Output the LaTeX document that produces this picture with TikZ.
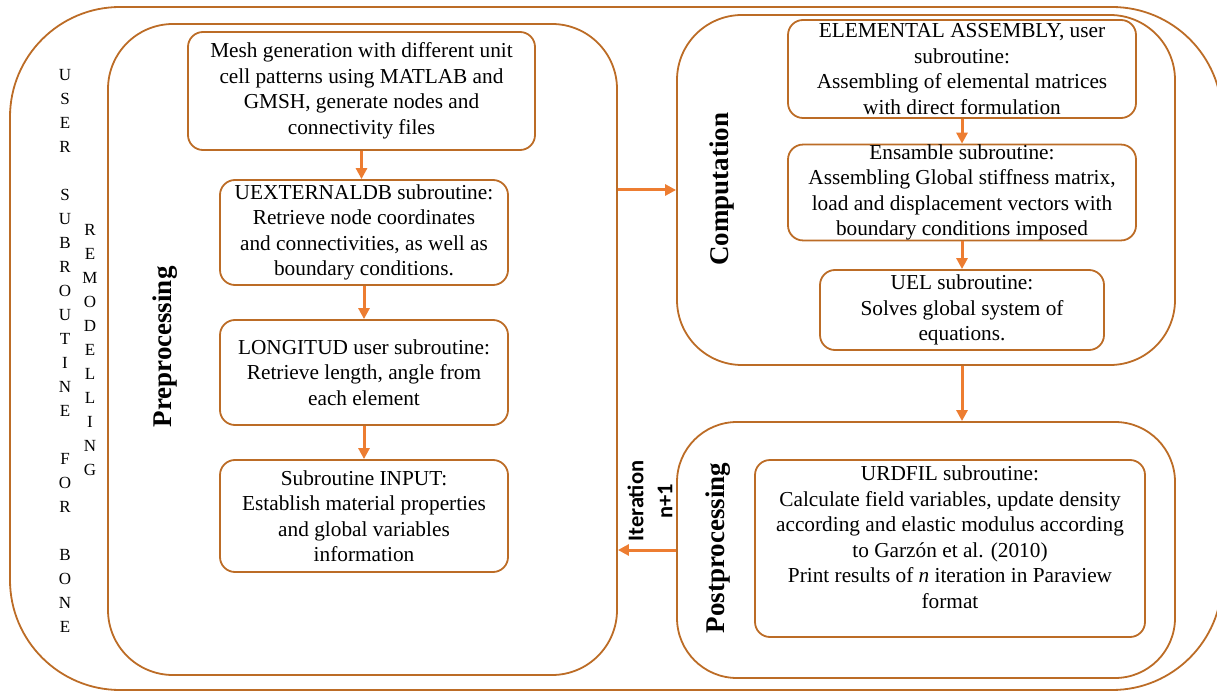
\documentclass[tikz,border=0pt]{standalone}
\usepackage{fontspec}
\setmainfont{Liberation Serif}
\newfontfamily\labelsans{Carlito}
\usetikzlibrary{arrows.meta}
\definecolor{boxbrown}{RGB}{188,108,38}
\definecolor{arroworange}{RGB}{237,125,49}
\begin{document}
\begin{tikzpicture}[x=1pt,y=-1pt,
  frame/.style={draw=boxbrown, line width=1.8pt, rounded corners=#1, inner sep=0pt},
  frame/.default=15pt,
  bodytext/.style={align=center, font=\fontsize{21.3}{25.5}\selectfont},
  stepbox/.style={frame, bodytext},
  flow/.style={draw=arroworange, line width=3pt, -{Triangle[length=11pt,width=11pt]}},
  title/.style={rotate=90, font=\fontsize{27}{30}\selectfont\bfseries},
  letters/.style={align=center, font=\fontsize{17}{24}\selectfont},
]
\useasboundingbox (0,0) rectangle (1217,692);
\clip (0,0) rectangle (1217,692);

% frames
\node[frame=110pt, minimum width=1212pt, minimum height=683pt] (outer) at (616,348.5) {};
\node[frame=65pt, minimum width=509pt, minimum height=651pt] (pre) at (362.5,349.5) {};
\node[frame=65pt, minimum width=498pt, minimum height=350pt] (comp) at (926,190) {};
\node[frame=60pt, minimum width=498pt, minimum height=256pt] (post) at (926,550) {};

% vertical side text
\node[letters] (usr) at (65,351) {U\\S\\E\\R\\\mbox{}\\S\\U\\B\\R\\O\\U\\T\\I\\N\\E\\\mbox{}\\F\\O\\R\\\mbox{}\\B\\O\\N\\E};
\node[letters] (rem) at (90,350) {R\\E\\M\\O\\D\\E\\L\\L\\I\\N\\G};

% titles
\node[title] (tpre) at (165,347) {Preprocessing};
\node[title] (tcomp) at (722,189) {Computation};
\node[title] (tpost) at (718,548) {Postprocessing};
\node[rotate=90, align=center, font=\labelsans\fontsize{22.5}{29}\selectfont\bfseries] (iter) at (650,501) {Iteration\\n+1};

% preprocessing steps
\node[stepbox, minimum width=347pt, minimum height=118pt] (b1) at (361.5,91) {Mesh generation with different unit\\cell patterns using MATLAB and\\GMSH, generate nodes and\\connectivity files};
\node[stepbox, minimum width=288pt, minimum height=105pt] (b2) at (364,232.5) {UEXTERNALDB subroutine:\\Retrieve node coordinates\\and connectivities, as well as\\boundary conditions.};
\node[stepbox, minimum width=288pt, minimum height=105pt] (b3) at (364,372.5) {LONGITUD user subroutine:\\Retrieve length, angle from\\each element};
\node[stepbox, minimum width=288pt, minimum height=112pt] (b4) at (364,516) {Subroutine INPUT:\\Establish material properties\\and global variables\\information};

% computation steps
\node[stepbox, minimum width=348pt, minimum height=98pt] (b5) at (962,69) {ELEMENTAL ASSEMBLY, user\\subroutine:\\Assembling of elemental matrices\\with direct formulation};
\node[stepbox, minimum width=348pt, minimum height=95pt] (b6) at (962,192.5) {Ensamble subroutine:\\Assembling Global stiffness matrix,\\load and displacement vectors with\\boundary conditions imposed};
\node[stepbox, minimum width=284pt, minimum height=80pt] (b7) at (962,310) {UEL subroutine:\\Solves global system of\\equations.};

% postprocessing
\node[frame, minimum width=390pt, minimum height=177pt] (b8) at (950,548.5) {};
\node[bodytext] (t8) at (950,537) {URDFIL subroutine:\\Calculate field variables, update density\\according and elastic modulus according\\to Garzón et al. (2010)\\Print results of \textit{n} iteration in Paraview\\format};

% arrows
\draw[flow] (b1.south) -- (b1.south |- b2.north);
\draw[flow] (b2) -- (b3);
\draw[flow] (b3) -- (b4);
\draw[flow] (b5) -- (b6);
\draw[flow] (b6) -- (b7);
\draw[flow] (pre.east |- comp.west) -- (comp.west);
\draw[flow] (b7.south |- comp.south) -- (b7.south |- post.north);
\draw[flow] (post.west) -- (post.west -| pre.east);
\end{tikzpicture}
\end{document}
